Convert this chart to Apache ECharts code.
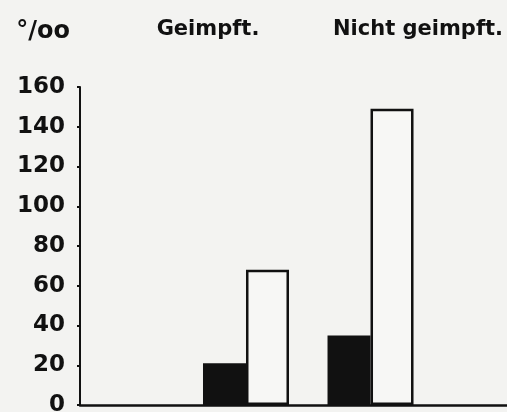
<!DOCTYPE html>
<html>
<head>
<meta charset="utf-8">
<script src="https://cdn.jsdelivr.net/npm/echarts@6/dist/echarts.min.js"></script>
<style>
html,body{margin:0;padding:0;background:#f3f3f1;}
#c{width:507px;height:412px;}
</style>
</head>
<body>
<div id="c"></div>
<script>
var categories = ['Geimpft.', 'Nicht geimpft.'];
var blackValues = [21, 35];
var whiteValues = [68, 149];
var yTicks = [0, 20, 40, 60, 80, 100, 120, 140, 160];
var unitLabel = '°/oo';

var chart = echarts.init(document.getElementById('c'));
var font = 'DejaVu Sans';
var labelX = [208, 418];

chart.setOption({
  backgroundColor: '#f3f3f1',
  animation: false,
  grid: {left: 80, right: 0, top: 87, bottom: 7, containLabel: false, outerBoundsMode: 'none'},
  graphic: categories.map(function (c, i) {
    return {
      type: 'text',
      x: labelX[i], y: 30,
      style: {
        text: c, align: 'center', verticalAlign: 'middle',
        font: 'bold 21px "' + font + '"', fill: '#111'
      }
    };
  }),
  xAxis: {
    type: 'value', min: -0.333, max: 3.096,
    axisLine: {show: true, onZero: false, lineStyle: {color: '#111', width: 2.5}},
    axisTick: {show: false}, axisLabel: {show: false}, splitLine: {show: false}
  },
  yAxis: {
    type: 'value', min: yTicks[0], max: yTicks[yTicks.length - 1], interval: 20,
    name: unitLabel, nameLocation: 'end', nameGap: 43,
    nameTextStyle: {color: '#111', fontFamily: font, fontWeight: 'bold', fontSize: 24, align: 'right', padding: [0, 10, 0, 0]},
    axisLine: {show: true, onZero: false, lineStyle: {color: '#111', width: 2}},
    axisTick: {show: true, length: 3, lineStyle: {color: '#111', width: 2}},
    axisLabel: {color: '#111', fontFamily: font, fontWeight: 'bold', fontSize: 23, margin: 15},
    splitLine: {show: false}
  },
  series: [
    {
      name: 'schwarz', type: 'bar', barWidth: 43, barGap: '0%',
      data: blackValues.map(function (v, i) { return [i + 1, v]; }),
      itemStyle: {color: '#111'}
    },
    {
      name: 'weiß', type: 'bar', barWidth: 43, barGap: '0%',
      data: whiteValues.map(function (v, i) { return [i + 1, v]; }),
      itemStyle: {color: '#f7f7f5', borderColor: '#111', borderWidth: 2.5}
    }
  ]
});
</script>
</body>
</html>
